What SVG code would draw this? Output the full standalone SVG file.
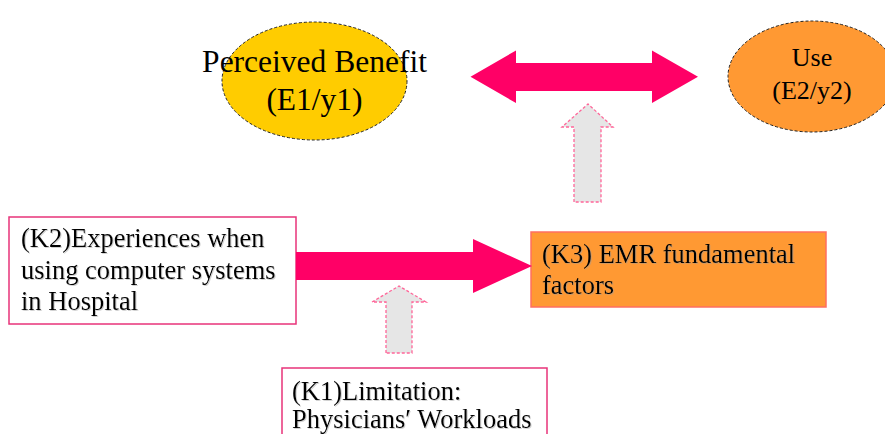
<svg xmlns="http://www.w3.org/2000/svg" width="885" height="434" viewBox="0 0 885 434">
<defs>
<style>
text{font-family:"Liberation Serif","Times New Roman",serif;fill:#000}
.big{font-size:31.5px}
.mid{font-size:26.5px}
.ell{stroke:#222;stroke-width:1;stroke-dasharray:3,2}
.box{fill:#fff;stroke:#E8337A;stroke-width:1.5}
.k3{fill:#FF9933;stroke:#FF6F61;stroke-width:1.5}
.red{fill:#FF0066;stroke:none}
.gray{fill:#E6E6E6;stroke:#FF6699;stroke-width:1.3;stroke-dasharray:3,2}
.sh{filter:url(#shadow)}
</style>
<filter id="shadow" x="-5%" y="-20%" width="110%" height="140%">
<feDropShadow dx="1" dy="1" stdDeviation="0.4" flood-color="#999" flood-opacity="0.45"/>
</filter>
</defs>
<g id="perceived-benefit">
<ellipse class="ell" cx="314.5" cy="81" rx="92.5" ry="59" fill="#FFCC00"/>
<text class="big" x="314.5" y="72" text-anchor="middle">Perceived Benefit</text>
<text class="big" x="314.5" y="110" text-anchor="middle">(E1/y1)</text>
</g>
<g id="use">
<ellipse class="ell" cx="812" cy="76.5" rx="84" ry="55.5" fill="#FF9933"/>
<text class="mid" style="font-size:26px" x="812" y="65.5" text-anchor="middle">Use</text>
<text class="mid" style="font-size:26px" x="812" y="99" text-anchor="middle">(E2/y2)</text>
</g>
<g id="k2">
<rect class="box" x="9" y="217" width="287" height="107"/>
<g class="sh">
<text class="mid" x="21" y="247">(K2)Experiences when</text>
<text class="mid" x="21" y="278.5">using computer systems</text>
<text class="mid" x="21" y="310">in Hospital</text>
</g>
</g>
<g id="k3">
<rect class="k3" x="531" y="232" width="295" height="75"/>
<g class="sh">
<text class="mid" x="542" y="263">(K3) EMR fundamental</text>
<text class="mid" x="542" y="294">factors</text>
</g>
</g>
<g id="k1">
<rect class="box" x="282" y="368" width="265" height="80"/>
<g class="sh">
<text class="mid" x="292" y="400">(K1)Limitation:</text>
<text class="mid" x="292" y="428">Physicians′ Workloads</text>
</g>
</g>
<g id="connectors">
<polygon class="red" points="470.5,76.7 516,50.5 516,63 652,63 652,50.5 698,76.7 652,103 652,91 516,91 516,103"/>
<polygon class="red" points="296,252 473,252 473,239 532,266 473,293 473,280 296,280"/>
<polygon class="gray" points="574,202 574,127 562,127 588,104 613,127 601,127 601,202"/>
<polygon class="gray" points="386,353 386,302 372,302 399,286 426,302 412,302 412,353"/>
</g>
</svg>
